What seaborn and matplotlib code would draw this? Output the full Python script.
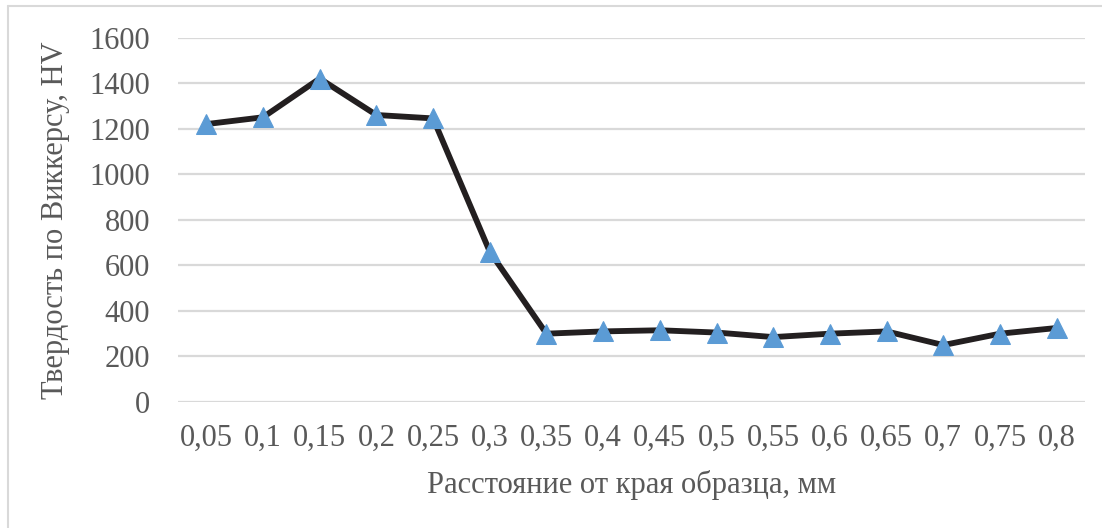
import seaborn as sns
import matplotlib.pyplot as plt
from matplotlib.lines import Line2D

# Distance from edge (mm) and Vickers hardness (HV)
distances = ["0,05", "0,1", "0,15", "0,2", "0,25", "0,3", "0,35", "0,4",
             "0,45", "0,5", "0,55", "0,6", "0,65", "0,7", "0,75", "0,8"]
hardness = [1220, 1250, 1420, 1260, 1245, 660, 300, 310,
            315, 305, 285, 300, 310, 250, 300, 325]
y_ticks = [0, 200, 400, 600, 800, 1000, 1200, 1400, 1600]

sns.set_theme(style="white")
plt.rcParams['font.family'] = ['Liberation Serif', 'DejaVu Serif']

text_color = "#595959"
grid_color = "#d9d9d9"
fs = 22

fig = plt.figure(figsize=(11.02, 5.28), dpi=100)
ax = fig.add_axes([0.1615, 0.2386, 0.8231, 0.6903])

positions = list(range(len(distances)))
sns.lineplot(x=positions, y=hardness, ax=ax, color="#231f20", linewidth=4.2,
             marker="^", markersize=15, markerfacecolor="#5b9bd5",
             markeredgecolor="#5b9bd5", zorder=3)

ax.set_xlim(-0.5, len(distances) - 0.5)
ax.set_ylim(0, 1600)
ax.set_yticks(y_ticks)
ax.set_yticklabels([str(v) for v in y_ticks])
ax.set_xticks(positions)
ax.set_xticklabels(distances)
ax.tick_params(axis="y", length=0, pad=20, labelsize=fs, labelcolor=text_color)
ax.tick_params(axis="x", length=0, pad=16, labelsize=fs, labelcolor=text_color)

ax.grid(axis="y", color=grid_color, linewidth=1.6)
ax.grid(axis="x", visible=False)
for s in ax.spines.values():
    s.set_visible(False)

ax.set_xlabel("Расстояние от края образца, мм", fontsize=fs, color=text_color, labelpad=12)
ax.set_ylabel("Твердость по Виккерсу, HV", fontsize=fs, color=text_color, labelpad=14)

# chart area border (top and left edges visible)
fig.add_artist(Line2D([8 / 1102, 8 / 1102], [0, 1 - 6 / 528], color=grid_color, linewidth=1.5))
fig.add_artist(Line2D([8 / 1102, 1], [1 - 6 / 528, 1 - 6 / 528], color=grid_color, linewidth=1.5))

fig.savefig("out.png", dpi=100)
